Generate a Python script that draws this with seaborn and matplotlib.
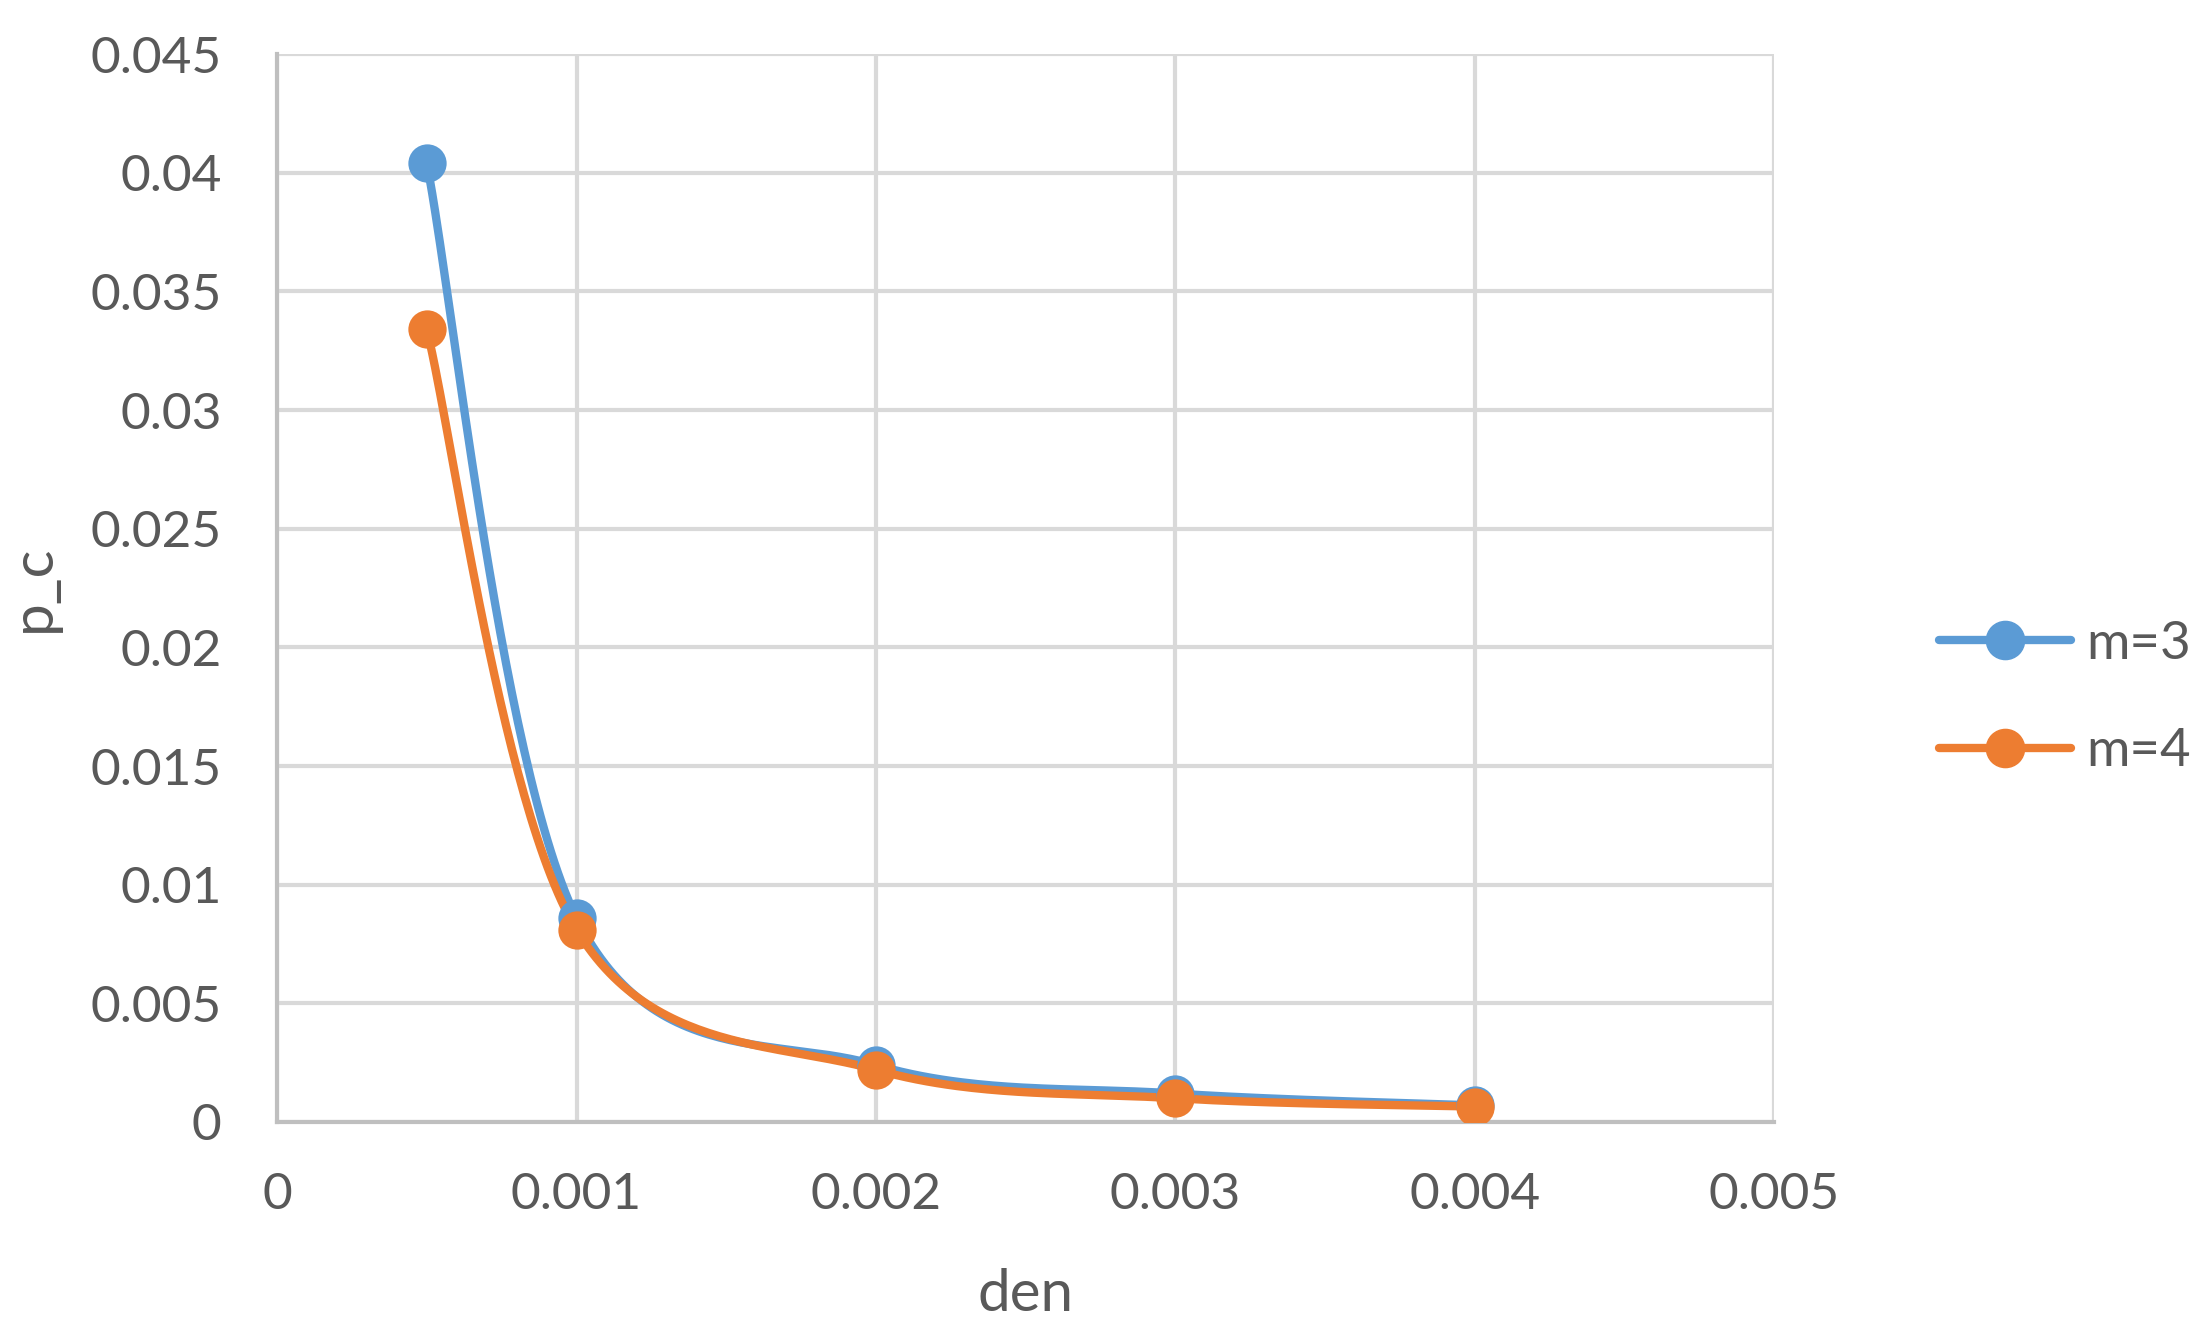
import numpy as np
import pandas as pd
import matplotlib
matplotlib.use('Agg')
import matplotlib.pyplot as plt
from matplotlib.lines import Line2D
import seaborn as sns

# valores
den = [0.0005, 0.001, 0.002, 0.003, 0.004]
pc_m3 = [0.0404, 0.0086, 0.0024, 0.0012, 0.0007]
pc_m4 = [0.0334, 0.0081, 0.0022, 0.0010, 0.00065]
series = ['m=3', 'm=4']
cores = ['#5B9BD5', '#ED7D31']


def suavizar(x, y, n=60):
    # curva suavizada estilo Excel (Bezier com pontos de controle Catmull-Rom)
    x = np.asarray(x, float)
    y = np.asarray(y, float)
    px = np.concatenate([[x[0]], x, [x[-1]]])
    py = np.concatenate([[y[0]], y, [y[-1]]])
    xs, ys = [], []
    t = np.linspace(0, 1, n)
    for i in range(1, len(px) - 2):
        p0 = np.array([px[i], py[i]])
        p3 = np.array([px[i + 1], py[i + 1]])
        c1 = p0 + (p3 - np.array([px[i - 1], py[i - 1]])) / 6
        c2 = p3 - (np.array([px[i + 2], py[i + 2]]) - p0) / 6
        b = ((1 - t) ** 3)[:, None] * p0 + (3 * (1 - t) ** 2 * t)[:, None] * c1 \
            + (3 * (1 - t) * t ** 2)[:, None] * c2 + (t ** 3)[:, None] * p3
        xs.extend(b[:, 0])
        ys.extend(b[:, 1])
    return np.array(xs), np.array(ys)


sns.set_style('white')
plt.rcParams['font.family'] = ['Lato', 'DejaVu Sans']

fig = plt.figure(figsize=(22.08, 13.22), dpi=100)
ax = fig.add_axes([0.1255, 0.1513, 0.678, 0.8077])

for nome, vals, cor in zip(series, [pc_m3, pc_m4], cores):
    sx, sy = suavizar(den, vals)
    curva = pd.DataFrame({'den': sx, 'p_c': sy})
    sns.lineplot(data=curva, x='den', y='p_c', color=cor, linewidth=6,
                 sort=False, ax=ax, solid_capstyle='round')
    pts = pd.DataFrame({'den': den, 'p_c': vals})
    sns.scatterplot(data=pts, x='den', y='p_c', color=cor, s=760,
                    edgecolor=cor, linewidth=0, ax=ax, zorder=5)

ax.set_xlim(0, 0.005)
ax.set_ylim(0, 0.045)
ax.set_xticks(np.arange(0, 0.0051, 0.001))
ax.set_yticks(np.arange(0, 0.0451, 0.005))
ax.set_xticklabels(['0', '0.001', '0.002', '0.003', '0.004', '0.005'])
ax.set_yticklabels(['0', '0.005', '0.01', '0.015', '0.02', '0.025',
                    '0.03', '0.035', '0.04', '0.045'])
ax.grid(True, color='#D9D9D9', linewidth=3)
ax.set_axisbelow(True)
for lado in ['top', 'right']:
    ax.spines[lado].set_visible(False)
for lado in ['left', 'bottom']:
    ax.spines[lado].set_color('#BFBFBF')
    ax.spines[lado].set_linewidth(3)
ax.tick_params(axis='both', length=0, labelsize=37, colors='#595959')
ax.tick_params(axis='x', pad=36)
ax.tick_params(axis='y', pad=40)
ax.set_xlabel('den', fontsize=42, color='#595959', labelpad=36)
ax.set_ylabel('p_c', fontsize=42, color='#595959', labelpad=22)

handles = [Line2D([0], [0], color=c, linewidth=6, marker='o', markersize=27.5,
                  solid_capstyle='round') for c in cores]
leg = fig.legend(handles, series, loc='center left', bbox_to_anchor=(0.878, 0.472),
                 frameon=False, fontsize=38, handlelength=2.5, labelspacing=1.15,
                 handletextpad=0.3, borderpad=0, borderaxespad=0)
for t in leg.get_texts():
    t.set_color('#595959')

fig.savefig('out.png', dpi=100)
